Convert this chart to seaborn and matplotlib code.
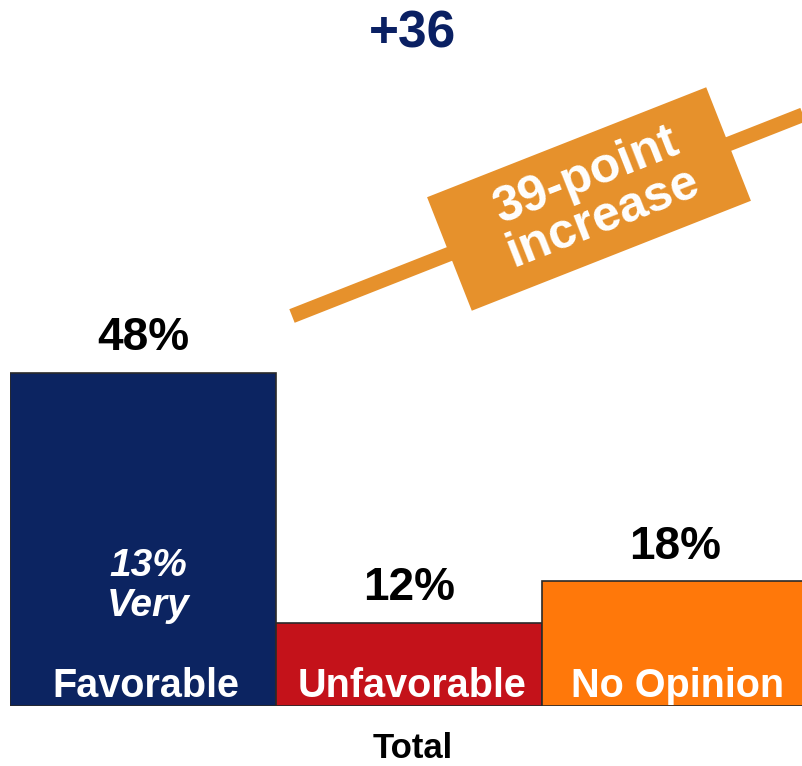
import numpy as np
import pandas as pd
import matplotlib
matplotlib.use("Agg")
import matplotlib.pyplot as plt
from matplotlib.patches import Polygon
from matplotlib.lines import Line2D
import seaborn as sns

# ---- data ----
categories = ["Favorable", "Unfavorable", "No Opinion"]
values = [48, 12, 18]
value_labels = ["48%", "12%", "18%"]
colors = ["#0C2461", "#C4121A", "#FF780A"]
very_label = "13%\nVery"
title_text = "+36"
banner_text = "39-point\nincrease"
xlabel_text = "Total"

sns.set_theme(style="white")
plt.rcParams["font.family"] = ["Liberation Sans", "DejaVu Sans"]

W, H = 803, 766
fig = plt.figure(figsize=(W / 100, H / 100), dpi=100)
ax = fig.add_axes([10 / W, 60 / H, 798 / W, 706 / H])

df = pd.DataFrame({"cat": categories, "val": values})
sns.barplot(data=df, x="cat", y="val", hue="cat", palette=colors,
            width=1.0, dodge=False, legend=False, ax=ax,
            edgecolor="#2a2a2a", linewidth=1.2, saturation=1)

ax.set_xlim(-0.5, 2.5)
ax.set_ylim(0, 101.7)
ax.axis("off")

# value labels above bars
for i, (v, lab) in enumerate(zip(values, value_labels)):
    ax.text(i, v + 1.8, lab, ha="center", va="bottom", fontsize=33,
            fontweight="bold", color="black")
    ax.text(i + 0.01, 2.9, categories[i], ha="center", va="center",
            fontsize=28.5, fontweight="bold", color="white")

ax.text(0.02, 17.3, very_label, ha="center", va="center", fontsize=28,
        fontweight="bold", fontstyle="italic", color="white", linespacing=1.12)

# title and x label
fig.text(413 / W, 1 - 34 / H, title_text, ha="center", va="center",
         fontsize=37, fontweight="bold", color="#0A2063")
fig.text(413 / W, 1 - 748 / H, xlabel_text, ha="center", va="center",
         fontsize=25, fontweight="bold", color="black")

# banner
def px(x, y):
    return (x / W, 1 - y / H)

cx, cy = 589, 199
ang = np.deg2rad(21.5)
ux, uy = np.cos(ang), -np.sin(ang)   # along (pixel coords, y down)
vx, vy = np.sin(ang), np.cos(ang)    # perpendicular
hl, hw = 150, 61
# line
x0, y0 = 292, cy + (cx - 292) * np.tan(ang)
x1, y1 = 830, cy - (830 - cx) * np.tan(ang)
fig.add_artist(Line2D([px(x0, y0)[0], px(x1, y1)[0]],
                      [px(x0, y0)[1], px(x1, y1)[1]],
                      transform=fig.transFigure, color="#E6912C",
                      linewidth=10.5, solid_capstyle="butt"))
corners = []
for sa, sb in [(-1, -1), (1, -1), (1, 1), (-1, 1)]:
    corners.append(px(cx + sa * hl * ux + sb * hw * vx,
                      cy + sa * hl * uy + sb * hw * vy))
fig.add_artist(Polygon(corners, closed=True, transform=fig.transFigure,
                       facecolor="#E6912C", edgecolor="none"))
fig.text(px(cx + 6, cy - 2)[0], px(cx + 6, cy - 2)[1], banner_text,
         ha="center", va="center", rotation=21.5, rotation_mode="anchor",
         fontsize=36, fontweight="bold", color="white", linespacing=0.95)

fig.savefig("out.png", dpi=100)
